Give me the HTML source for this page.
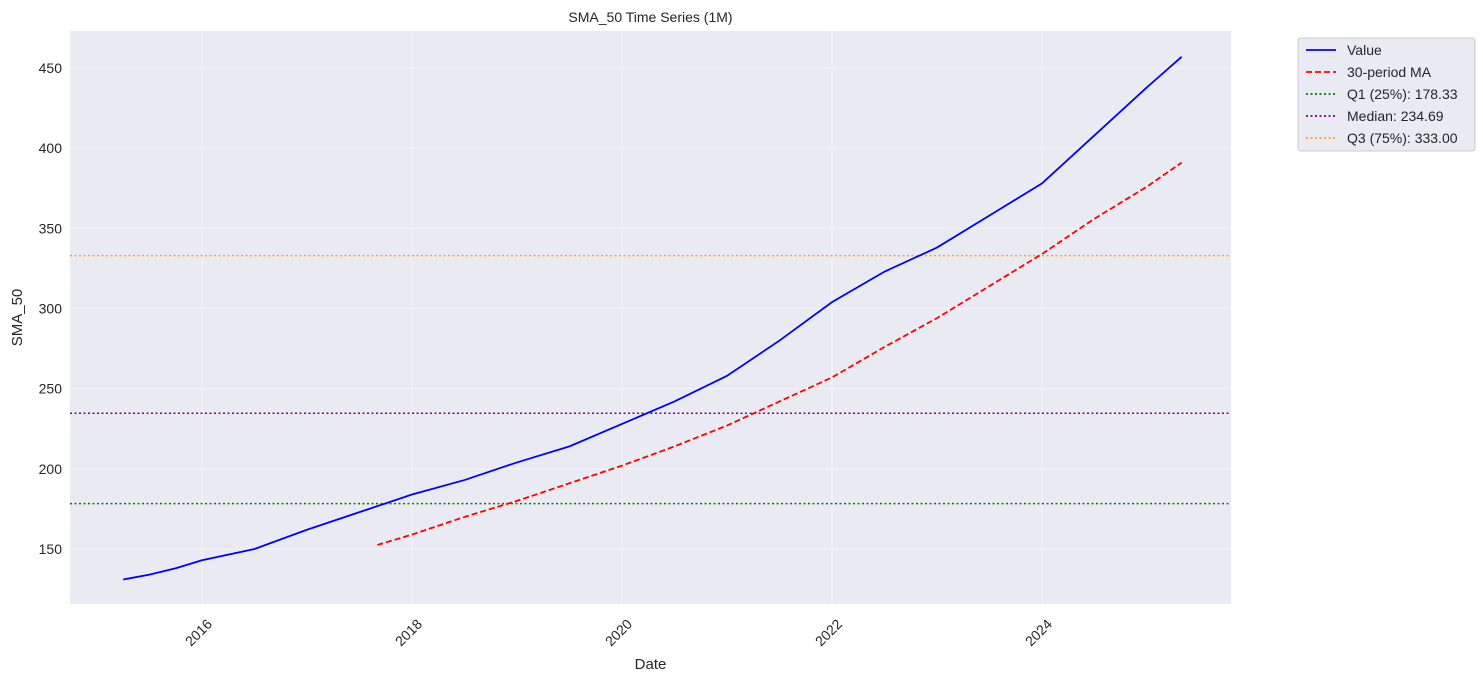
<!DOCTYPE html>
<html><head><meta charset="utf-8"><style>
body{margin:0;background:#fff;font-family:"Liberation Sans","DejaVu Sans",sans-serif;}
svg text{font-family:"Liberation Sans","DejaVu Sans",sans-serif;fill:#262626;}
</style></head><body>
<svg id="chart" width="1483" height="683"></svg>
<script>
const valueDates=[2015.25,2015.5,2015.75,2016.0,2016.5,2017.0,2017.5,2018.0,2018.5,2019.0,2019.5,2020.0,2020.5,2021.0,2021.5,2022.0,2022.5,2023.0,2023.5,2024.0,2024.5,2025.0,2025.33];
const values=[131,134,138,143,150,162,173,184,193,204,214,228,242,258,280,304,323,338,358,378,408,438,457];
const maDates=[2017.67,2018.0,2018.5,2019.0,2019.5,2020.0,2020.5,2021.0,2021.5,2022.0,2022.5,2023.0,2023.5,2024.0,2024.5,2025.0,2025.33];
const maValues=[152.5,159,170,180,191,202,214,227,242,257,276,294,314,334,356,376,391];
const yTicks=[150,200,250,300,350,400,450];
const xTicks=[2016,2018,2020,2022,2024];
const hLines=[{v:178.33,c:"green",label:"Q1 (25%): 178.33"},{v:234.69,c:"purple",label:"Median: 234.69"},{v:333.00,c:"orange",label:"Q3 (75%): 333.00"}];

const NS="http://www.w3.org/2000/svg";
const svg=document.getElementById('chart');
const L=70,R=1231,T=31,B=604;
const xs=d=>202+(d-2016)*105;
const ys=v=>549-(v-150)*(481/300);
function mk(tag,attrs,parent){const e=document.createElementNS(NS,tag);for(const k in attrs)e.setAttribute(k,attrs[k]);(parent||svg).appendChild(e);return e;}

const bg=mk('rect',{x:L,y:T,width:R-L,height:B-T,fill:'#eaeaf2'});


yTicks.forEach(v=>{
  const g=mk('line',{x1:L,x2:R,y1:ys(v),y2:ys(v),stroke:'#f4f4f8','stroke-width':1});
  
  
  const t=mk('text',{x:L-8,y:ys(v)+5,'text-anchor':'end','font-size':14});
  t.textContent=v;
  
  
});
xTicks.forEach(d=>{
  const g=mk('line',{x1:xs(d),x2:xs(d),y1:T,y2:B,stroke:'#f4f4f8','stroke-width':1});
  
  
  const tx=xs(d)+11, ty=B+21;
  const t=mk('text',{x:tx,y:ty,'text-anchor':'end','font-size':14,transform:`rotate(-45 ${tx} ${ty})`});
  t.textContent=d;
  
  
});
hLines.forEach(h=>{
  const l=mk('line',{x1:L,x2:R,y1:ys(h.v),y2:ys(h.v),stroke:h.c,'stroke-width':1.5,'stroke-dasharray':'2,2.5'});
  
  
});
const vp=mk('polyline',{points:valueDates.map((d,i)=>xs(d)+','+ys(values[i])).join(' '),fill:'none',stroke:'blue','stroke-width':1.8});


const mp=mk('polyline',{points:maDates.map((d,i)=>xs(d)+','+ys(maValues[i])).join(' '),fill:'none',stroke:'red','stroke-width':1.8,'stroke-dasharray':'6,3'});



const title=mk('text',{x:(L+R)/2,y:22,'text-anchor':'middle','font-size':14});
title.textContent='SMA_50 Time Series (1M)';


const xt=mk('text',{x:(L+R)/2,y:669,'text-anchor':'middle','font-size':15});
xt.textContent='Date';


const yt=mk('text',{x:22,y:(T+B)/2,'text-anchor':'middle','font-size':15,transform:`rotate(-90 22 ${(T+B)/2})`});
yt.textContent='SMA_50';



const lg=mk('g',{});


mk('rect',{x:1298,y:38,width:177,height:113,rx:3,fill:'#eaeaf2',stroke:'#ccc'},lg);
const entries=[{c:'blue',d:'',label:'Value'},{c:'red',d:'6,3',label:'30-period MA'}].concat(hLines.map(h=>({c:h.c,d:'2,2.5',label:h.label})));
entries.forEach((e,i)=>{
  const y=50+i*22;
  const g=mk('g',{},lg);
  
  
  mk('line',{x1:1306,x2:1336,y1:y,y2:y,stroke:e.c,'stroke-width':1.8,'stroke-dasharray':e.d||'none'},g);
  const t=mk('text',{x:1347,y:y+5,'font-size':14},g);
  t.textContent=e.label;
});
</script>
</body></html>
